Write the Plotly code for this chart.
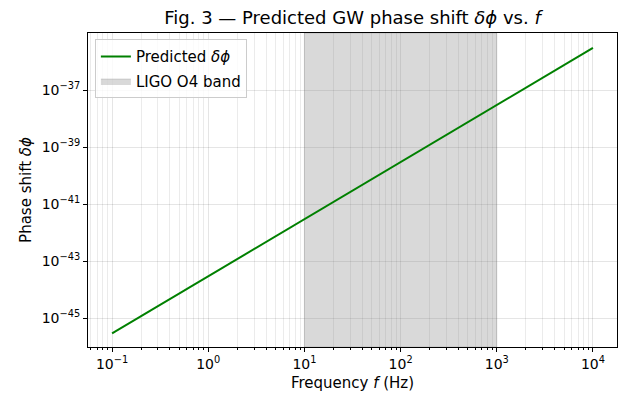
import plotly.graph_objects as go

# Data
freq_hz = [0.1, 1, 10, 100, 1000, 10000]
dphi = [3.0e-46, 3.0e-44, 3.0e-42, 3.0e-40, 3.0e-38, 3.0e-36]
band_lo, band_hi = 10, 1000
x_tick_vals = [0.1, 1, 10, 100, 1000, 10000]
x_tick_text = ["10<sup>\u22121</sup>", "10<sup>0</sup>", "10<sup>1</sup>", "10<sup>2</sup>", "10<sup>3</sup>", "10<sup>4</sup>"]
y_tick_vals = [1e-45, 1e-43, 1e-41, 1e-39, 1e-37]
y_tick_text = ["10<sup>\u221245</sup>", "10<sup>\u221243</sup>", "10<sup>\u221241</sup>", "10<sup>\u221239</sup>", "10<sup>\u221237</sup>"]
x_range_log = [-1.25, 4.25]
y_range_log = [-46, -35]

minor_x = [k * 10 ** e for e in range(-2, 5) for k in range(2, 10)]

font = "DejaVu Sans, sans-serif"
fig = go.Figure()

fig.add_trace(go.Scatter(
    x=[band_lo, band_hi, band_hi, band_lo, band_lo],
    y=[10 ** y_range_log[0], 10 ** y_range_log[0], 10 ** y_range_log[1], 10 ** y_range_log[1], 10 ** y_range_log[0]],
    fill="toself", fillcolor="rgba(128,128,128,0.3)",
    line=dict(color="rgba(128,128,128,0.35)", width=0.8),
    mode="lines", name="LIGO O4 band", legendrank=2, hoverinfo="skip",
    legendgroup="b",
))
fig.add_trace(go.Scatter(
    x=freq_hz, y=dphi, mode="lines", name="Predicted <i>\u03b4\u03d5</i>",
    line=dict(color="#008000", width=2), legendrank=1, legendgroup="a",
))

axis_common = dict(
    showline=True, linecolor="black", linewidth=1, mirror=True,
    ticks="outside", ticklen=4, tickcolor="black", tickwidth=1,
    gridcolor="rgba(0,0,0,0.1)", gridwidth=1, zeroline=False,
    tickfont=dict(family=font, size=14, color="black"),
)

fig.update_xaxes(
    type="log", range=x_range_log, tickmode="array",
    tickvals=x_tick_vals, ticktext=x_tick_text,
    title=dict(text="Frequency <i>f</i> (Hz)", font=dict(family=font, size=15, color="black"), standoff=6),
    minor=dict(tickmode="array", tickvals=minor_x, ticks="outside", ticklen=2,
               tickcolor="black", showgrid=True, gridcolor="rgba(0,0,0,0.08)", gridwidth=1),
    **axis_common,
)
fig.update_yaxes(
    type="log", range=y_range_log, tickmode="array",
    tickvals=y_tick_vals, ticktext=y_tick_text,
    title=dict(text="Phase shift <i>\u03b4\u03d5</i>", font=dict(family=font, size=15, color="black"), standoff=6),
    **axis_common,
)

fig.update_layout(
    width=623, height=397,
    margin=dict(l=88, r=6, t=33, b=50),
    paper_bgcolor="white", plot_bgcolor="white",
    title=dict(text="Fig. 3 \u2014 Predicted GW phase shift <i>\u03b4\u03d5</i> vs. <i>f</i>",
               x=0.5, xref="paper", xanchor="center", y=0.955, yanchor="middle",
               font=dict(family=font, size=18, color="black")),
    legend=dict(x=0.013, y=0.98, xanchor="left", yanchor="top",
                bgcolor="rgba(255,255,255,0.8)", bordercolor="#cccccc", borderwidth=1,
                font=dict(family=font, size=15, color="black"), tracegroupgap=2),
    showlegend=True,
)

fig.write_html("out.html", config={"displayModeBar": False},
               post_script="document.body.style.margin='0';document.body.style.padding='0';")
